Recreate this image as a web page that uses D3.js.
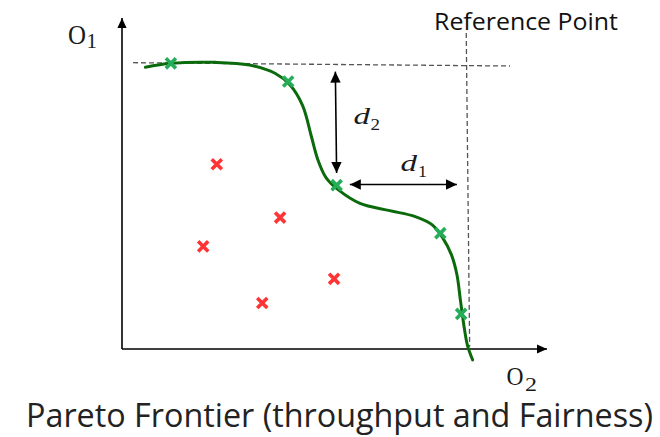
<!DOCTYPE html>
<html>
<head>
<meta charset="utf-8">
<script src="https://cdn.jsdelivr.net/npm/d3@7"></script>
<style>
  html, body { margin: 0; padding: 0; background: #fff; }
  svg { display: block; }
</style>
</head>
<body>
<svg id="chart" width="660" height="437"></svg>
<script>
// Pareto frontier sketch: two objectives, dominated vs non-dominated solutions.

// Frontier curve (objective O2 on x, O1 on y), in axis units 0..10
const frontierX = [0.55, 1.15, 2.20, 3.00, 3.60, 3.95, 4.25, 4.45, 4.60, 4.80, 5.10, 5.60, 6.30, 6.90, 7.30, 7.55, 7.75, 7.88, 7.96, 8.04, 8.13, 8.25];
const frontierY = [8.51, 8.63, 8.66, 8.58, 8.33, 7.98, 7.35, 6.45, 5.75, 5.18, 4.80, 4.40, 4.18, 4.00, 3.75, 3.35, 2.85, 2.25, 1.50, 0.75, 0.10, -0.33];

// Non-dominated solutions (on the frontier)
const paretoX = [1.15, 3.91, 5.05, 7.49, 7.98];
const paretoY = [8.63, 8.08, 4.95, 3.50, 1.06];

// Dominated solutions
const dominatedX = [2.23, 3.72, 1.91, 4.99, 3.30];
const dominatedY = [5.58, 3.97, 3.10, 2.12, 1.39];

// Reference point guide lines
const refHLine = [[0.26, 8.65], [9.13, 8.55]];
const refVLine = [[8.10, 9.55], [8.18, 0.07]];

// Distance arrows d2 (vertical) and d1 (horizontal)
const d2Arrow = [[5.02, 8.38], [5.05, 5.32]];
const d1Arrow = [[5.36, 4.97], [7.88, 4.97]];

const svg = d3.select("#chart");
const x = d3.scaleLinear().domain([0, 10]).range([122, 547]);
const y = d3.scaleLinear().domain([0, 10]).range([349, 18]);

const defs = svg.append("defs");
function arrowMarker(id, len, half) {
  defs.append("marker")
    .attr("id", id)
    .attr("markerUnits", "userSpaceOnUse")
    .attr("viewBox", `${-len} ${-half} ${len} ${half * 2}`)
    .attr("refX", 0).attr("refY", 0)
    .attr("markerWidth", len).attr("markerHeight", half * 2)
    .attr("orient", "auto-start-reverse")
    .append("path")
    .attr("d", `M0,0L${-len},${-half}L${-len},${half}Z`)
    .attr("fill", "#000");
}
arrowMarker("axisHead", 10, 4.6);
arrowMarker("distHead", 11, 5.2);

const line = d3.line().x(d => x(d[0])).y(d => y(d[1]));

// Axes
svg.append("line")
  .attr("x1", x(0)).attr("y1", y(0)).attr("x2", x(0)).attr("y2", y(10))
  .attr("stroke", "#000").attr("stroke-width", 1.6)
  .attr("marker-end", "url(#axisHead)");
svg.append("line")
  .attr("x1", x(0)).attr("y1", y(0)).attr("x2", x(10)).attr("y2", y(0))
  .attr("stroke", "#000").attr("stroke-width", 1.6)
  .attr("marker-end", "url(#axisHead)");

// Reference guide lines
[refHLine, refVLine].forEach(seg => {
  svg.append("path")
    .attr("d", line(seg))
    .attr("fill", "none")
    .attr("stroke", "#555")
    .attr("stroke-width", 1.3)
    .attr("stroke-dasharray", "5,3");
});

// Frontier curve
const frontier = frontierX.map((v, i) => [v, frontierY[i]]);
svg.append("path")
  .attr("d", d3.line().x(d => x(d[0])).y(d => y(d[1])).curve(d3.curveCatmullRom.alpha(0.5))(frontier))
  .attr("fill", "none")
  .attr("stroke", "#0b6a0b")
  .attr("stroke-width", 3)
  .attr("stroke-linecap", "round");

// Solution markers
const cross = d3.symbol(d3.symbolTimes, 68);
function drawMarks(xs, ys, color) {
  svg.append("g").selectAll("path")
    .data(xs.map((v, i) => [v, ys[i]]))
    .join("path")
    .attr("d", cross)
    .attr("transform", d => `translate(${x(d[0])},${y(d[1])})`)
    .attr("fill", "none")
    .attr("stroke", color)
    .attr("stroke-width", 3.6);
}
drawMarks(dominatedX, dominatedY, "#ff3535");
drawMarks(paretoX, paretoY, "#26ad5a");

// Distance arrows
[d2Arrow, d1Arrow].forEach(seg => {
  svg.append("path")
    .attr("d", line(seg))
    .attr("fill", "none")
    .attr("stroke", "#000")
    .attr("stroke-width", 1.6)
    .attr("marker-start", "url(#distHead)")
    .attr("marker-end", "url(#distHead)");
});

// Text helper: fixed width via textLength
function label(px, py, str, size, family, opts = {}) {
  const t = svg.append("text")
    .attr("x", px).attr("y", py)
    .attr("font-family", family)
    .attr("font-size", size)
    .attr("fill", opts.fill || "#1a1a1a")
    .attr("font-style", opts.italic ? "italic" : "normal")
    .text(str);
  if (opts.width) t.attr("textLength", opts.width).attr("lengthAdjust", "spacingAndGlyphs");
  return t;
}
const serif = "'Liberation Serif', 'DejaVu Serif', serif";
const sans = "'Open Sans', 'Noto Sans', sans-serif";

// Axis names
label(68, 43.5, "O", 27, serif, { width: 18 });
label(86.5, 48.3, "1", 20, serif, { width: 10.5 });
label(506.5, 385, "O", 26, serif, { width: 17 });
label(525, 391, "2", 19, serif, { width: 12 });

// Distance labels
label(353.5, 124, "d", 24, serif, { italic: true, width: 16.5 });
label(370.5, 130, "2", 17, serif, { width: 9.5 });
label(400.5, 171, "d", 24, serif, { italic: true, width: 16.5 });
label(418, 177.3, "1", 17, serif, { width: 9 });

// Reference point label
label(434, 30, "Reference Point", 24, sans, { width: 184, fill: "#111" });

// Caption
label(26, 427, "Pareto Frontier (throughput and Fairness)", 32, sans, { width: 627, fill: "#222" });
</script>
</body>
</html>
